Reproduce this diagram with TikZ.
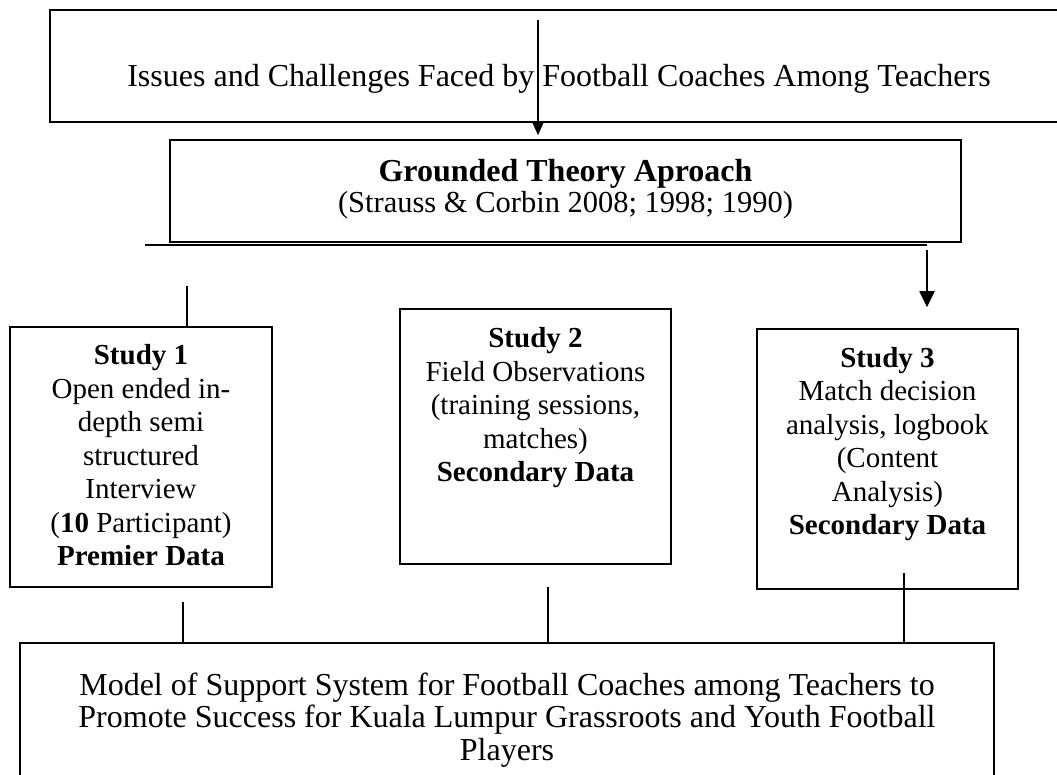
\documentclass[tikz,border=0pt]{standalone}
\usepackage{fontspec}
\setmainfont{Liberation Serif}
\usetikzlibrary{arrows.meta}
\begin{document}
\begin{tikzpicture}[x=1pt,y=-1pt,
  box/.style={draw,line width=1.5pt,inner sep=0pt,rectangle},
  conn/.style={line width=1.3pt},
  bigtxt/.style={inner sep=0pt,align=center,font=\fontsize{32}{32.5}\selectfont},
  midtxt/.style={inner sep=0pt,align=center,font=\fontsize{30.5}{31}\selectfont},
  smtxt/.style={inner sep=0pt,align=center,font=\fontsize{29}{33.5}\selectfont},
  tipA/.style={-{Triangle[width=12pt,length=14pt]}},
  tipB/.style={-{Triangle[width=15pt,length=16pt]}}]
\useasboundingbox (0,0) rectangle (1057,775);

% boxes
\node[box,minimum width=1018pt,minimum height=112pt] (issues) at (559,66) {};
\node[bigtxt] (issuest) at (559,79) {Issues and Challenges Faced by Football Coaches Among Teachers};

\node[box,minimum width=791pt,minimum height=102pt] (gt) at (565.5,191) {};
\node[midtxt] (gtt) at (565.5,189) {{\fontsize{32}{31}\selectfont\textbf{Grounded Theory Aproach}}\\(Strauss \& Corbin 2008; 1998; 1990)};

\node[box,minimum width=262pt,minimum height=260pt] (s1) at (141,457) {};
\node[smtxt] (s1t) at (141,455.5) {\textbf{Study 1}\\Open ended in-\\depth semi\\structured\\Interview\\(\textbf{10} Participant)\\\textbf{Premier Data}};

\node[box,minimum width=271pt,minimum height=255pt] (s2) at (535.5,436.5) {};
\node[smtxt] (s2t) at (535.5,408) {\textbf{Study 2}\\Field Observations\\(training sessions,\\matches)\\\textbf{Secondary Data}};

\node[box,minimum width=261pt,minimum height=260pt] (s3) at (887.5,459) {};
\node[smtxt] (s3t) at (887.5,444) {\textbf{Study 3}\\Match decision\\analysis, logbook\\(Content\\Analysis)\\\textbf{Secondary Data}};

\node[box,minimum width=974pt,minimum height=150pt] (model) at (507,718) {};
\node[bigtxt] (modelt) at (507,720) {Model of Support System for Football Coaches among Teachers to\\Promote Success for Kuala Lumpur Grassroots and Youth Football\\Players};

% connectors
\coordinate (a1s) at (538,20);
\draw[conn,tipA,shorten >=4pt] (a1s) -- (a1s |- gt.north);

\coordinate (hl1) at (145,245);
\coordinate (hl2) at (927,245);
\draw[line width=2.5pt] (hl1) -- (hl2);

\coordinate (a2s) at (927,250);
\draw[conn,line width=1.8pt,tipB,shorten >=21pt] (a2s) -- (a2s |- s3.north);

\coordinate (l1s) at (187,286);
\draw[conn] (l1s) -- (l1s |- s1.north);

\coordinate (b1) at (183,602);
\coordinate (b2) at (548,587);
\coordinate (b3) at (904,573);
\draw[conn] (b1) -- (b1 |- model.north);
\draw[conn] (b2) -- (b2 |- model.north);
\draw[conn] (b3) -- (b3 |- model.north);
\end{tikzpicture}
\end{document}
